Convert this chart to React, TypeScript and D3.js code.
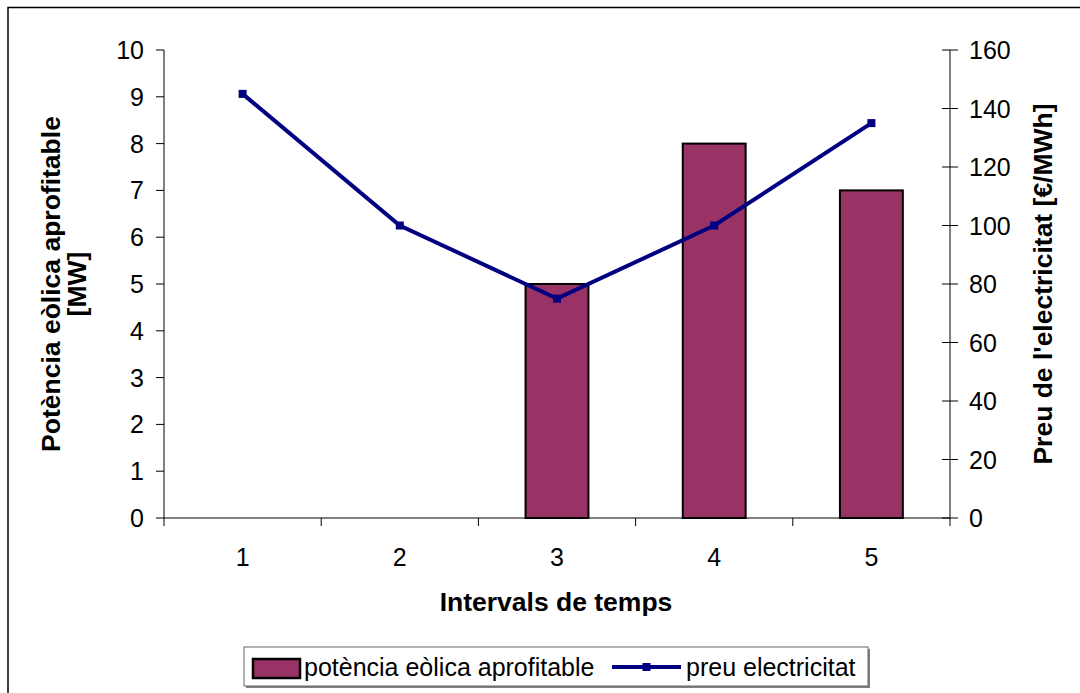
import React from "react";
import * as d3 from "d3";

const categories = ["1", "2", "3", "4", "5"];
const potencia = [0, 0, 5, 8, 7];
const preu = [145, 100, 75, 100, 135];
const leftTicks = [0, 1, 2, 3, 4, 5, 6, 7, 8, 9, 10];
const rightTicks = [0, 20, 40, 60, 80, 100, 120, 140, 160];

const W = 1080;
const H = 693;
const plot = { left: 164, right: 950, top: 50, bottom: 518 };
const FONT = "'Liberation Sans', Arial, sans-serif";
const FS = 25;
const FSB = 26.5;

export default function App() {
  const x = d3.scaleBand<string>().domain(categories).range([plot.left, plot.right]).paddingInner(0).paddingOuter(0);
  const yL = d3.scaleLinear().domain([0, 10]).range([plot.bottom, plot.top]);
  const yR = d3.scaleLinear().domain([0, 160]).range([plot.bottom, plot.top]);
  const bw = x.bandwidth() * 0.4;
  const line = d3
    .line<number>()
    .x((_, i) => (x(categories[i]) as number) + x.bandwidth() / 2)
    .y((d) => yR(d));
  const bounds = [...categories.map((c) => x(c) as number), plot.right];
  const midY = (plot.top + plot.bottom) / 2;

  return (
    <svg width={W} height={H} style={{ position: "absolute", left: 0, top: 0 }} fontFamily={FONT}>
      <rect x={0} y={0} width={W} height={H} fill="#fff" />
      <rect x={8} y={7.5} width={W + 20} height={H + 20} fill="none" stroke="#000" strokeWidth={1.5} />

      {/* bars */}
      {potencia.map((v, i) =>
        v > 0 ? (
          <rect
            key={i}
            x={(x(categories[i]) as number) + (x.bandwidth() - bw) / 2}
            y={yL(v)}
            width={bw}
            height={yL(0) - yL(v)}
            fill="#993366"
            stroke="#000"
            strokeWidth={2}
          />
        ) : null
      )}

      {/* left axis */}
      <line x1={plot.left} x2={plot.left} y1={plot.top} y2={plot.bottom} stroke="#000" strokeWidth={1} />
      {leftTicks.map((t) => (
        <g key={t}>
          <line x1={plot.left - 8} x2={plot.left} y1={yL(t)} y2={yL(t)} stroke="#000" />
          <text x={144} y={yL(t)} dy="0.36em" textAnchor="end" fontSize={FS}>
            {t}
          </text>
        </g>
      ))}

      {/* right axis */}
      <line x1={plot.right} x2={plot.right} y1={plot.top} y2={plot.bottom} stroke="#000" strokeWidth={1} />
      {rightTicks.map((t) => (
        <g key={t}>
          <line x1={plot.right - 8} x2={plot.right + 8} y1={yR(t)} y2={yR(t)} stroke="#000" />
          <text x={969} y={yR(t)} dy="0.36em" textAnchor="start" fontSize={FS}>
            {t}
          </text>
        </g>
      ))}

      {/* x axis */}
      <line x1={plot.left} x2={plot.right} y1={plot.bottom} y2={plot.bottom} stroke="#000" strokeWidth={1} />
      {bounds.map((b, i) => (
        <line key={i} x1={b} x2={b} y1={plot.bottom} y2={plot.bottom + 8} stroke="#000" />
      ))}
      {categories.map((c) => (
        <text key={c} x={(x(c) as number) + x.bandwidth() / 2} y={566} textAnchor="middle" fontSize={FS}>
          {c}
        </text>
      ))}

      {/* line */}
      <path d={line(preu) as string} fill="none" stroke="#000080" strokeWidth={4} />
      {preu.map((v, i) => (
        <rect
          key={i}
          x={(x(categories[i]) as number) + x.bandwidth() / 2 - 4}
          y={yR(v) - 4}
          width={8}
          height={8}
          fill="#000080"
        />
      ))}

      {/* titles */}
      <text x={556} y={611} textAnchor="middle" fontSize={FSB} fontWeight="bold">
        Intervals de temps
      </text>
      <text transform={`translate(60,${midY}) rotate(-90)`} textAnchor="middle" fontSize={FSB} fontWeight="bold">
        Potència eòlica aprofitable
      </text>
      <text transform={`translate(86,${midY}) rotate(-90)`} textAnchor="middle" fontSize={FSB} fontWeight="bold">
        [MW]
      </text>
      <text transform={`translate(1052,${midY}) rotate(-90)`} textAnchor="middle" fontSize={FSB} fontWeight="bold">
        Preu de l'electricitat [€/MWh]
      </text>

      {/* legend */}
      <rect x={246} y={649} width={624} height={39} fill="#808080" />
      <rect x={244} y={647} width={624} height={39} fill="#fff" stroke="#666" strokeWidth={1} />
      <rect x={253} y={659} width={47} height={19} fill="#993366" stroke="#000" strokeWidth={2.5} />
      <text x={304} y={676} fontSize={FS}>
        potència eòlica aprofitable
      </text>
      <line x1={612} x2={681} y1={667} y2={667} stroke="#000080" strokeWidth={4} />
      <rect x={642.5} y={663} width={8} height={8} fill="#000080" />
      <text x={686} y={676} fontSize={FS}>
        preu electricitat
      </text>
    </svg>
  );
}
